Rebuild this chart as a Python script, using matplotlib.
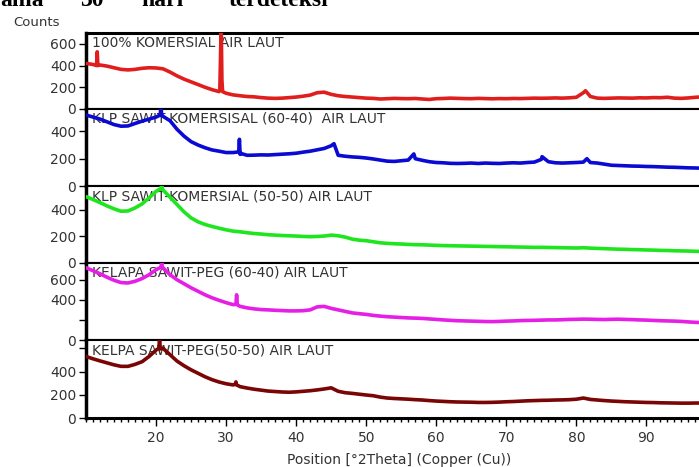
import numpy as np
import matplotlib
matplotlib.use("Agg")
import matplotlib.pyplot as plt
from matplotlib.ticker import MultipleLocator

# 2theta grid (1 degree steps) and the counts
two_theta = list(range(10, 99))

red_counts = [420, 410, 405, 395, 380, 365, 360, 365, 375, 380,
              378, 370, 340, 305, 275, 250, 225, 200, 178, 160,
              145, 130, 122, 115, 112, 105, 100, 98, 100, 105,
              110, 118, 128, 150, 155, 135, 122, 115, 110, 105,
              100, 98, 92, 95, 98, 96, 95, 97, 92, 88,
              95, 97, 100, 98, 96, 95, 98, 96, 94, 96,
              95, 97, 96, 98, 100, 99, 100, 102, 100, 103,
              108, 150, 115, 100, 98, 100, 102, 101, 100, 103,
              102, 105, 104, 108, 100, 98, 102, 108, 112]
red_peak_x = [11.5, 11.6, 11.7, 29.1, 29.3, 29.4, 29.5, 81.3]
red_peak_y = [400, 527, 400, 170, 780, 270, 160, 168]

blue_counts = [520, 505, 490, 470, 450, 438, 440, 458, 475, 490,
               505, 510, 478, 415, 365, 325, 300, 280, 264, 255,
               245, 245, 232, 225, 226, 228, 227, 230, 233, 236,
               240, 248, 255, 265, 275, 295, 225, 218, 213, 210,
               205, 198, 190, 182, 180, 185, 190, 200, 188, 178,
               172, 170, 166, 165, 166, 168, 165, 168, 166, 165,
               168, 170, 168, 172, 175, 195, 178, 170, 168, 170,
               172, 175, 172, 168, 160, 152, 150, 148, 146, 145,
               143, 142, 140, 138, 137, 135, 133, 132, 130]
blue_peak_x = [20.6, 20.7, 20.8, 31.8, 31.9, 32.0, 45.4, 56.8, 75.1, 81.5]
blue_peak_y = [520, 590, 515, 250, 342, 240, 310, 235, 215, 200]

green_counts = [500, 478, 455, 430, 408, 390, 392, 415, 445, 490,
                540, 550, 495, 440, 385, 340, 310, 290, 275, 262,
                250, 240, 235, 228, 222, 218, 213, 210, 207, 205,
                203, 200, 198, 200, 203, 210, 205, 195, 180, 172,
                168, 160, 152, 148, 145, 143, 140, 138, 137, 135,
                133, 131, 130, 129, 128, 127, 126, 125, 124, 123,
                122, 121, 120, 119, 118, 118, 117, 116, 115, 114,
                113, 115, 112, 110, 108, 106, 104, 103, 101, 100,
                98, 97, 95, 94, 92, 91, 90, 88, 87]
green_peak_x = [20.7, 20.8, 20.9]
green_peak_y = [560, 600, 555]

magenta_counts = [720, 690, 660, 625, 595, 572, 568, 585, 612, 650,
                  700, 720, 650, 600, 560, 520, 485, 450, 420, 395,
                  372, 352, 335, 320, 310, 303, 300, 296, 293, 290,
                  290, 292, 300, 330, 335, 315, 300, 285, 270, 262,
                  255, 245, 238, 232, 228, 224, 220, 218, 215, 210,
                  205, 200, 196, 192, 190, 188, 186, 184, 183, 185,
                  188, 190, 193, 195, 196, 198, 200, 200, 202, 205,
                  206, 208, 207, 205, 204, 206, 207, 205, 203, 200,
                  198, 195, 192, 190, 188, 185, 180, 176, 173]
magenta_peak_x = [20.7, 20.8, 20.9, 31.4, 31.5, 31.6]
magenta_peak_y = [725, 770, 715, 355, 450, 350]

brown_counts = [530, 510, 492, 475, 458, 445, 445, 462, 485, 530,
                585, 600, 545, 490, 450, 415, 385, 355, 330, 310,
                295, 285, 270, 258, 248, 240, 232, 228, 224, 222,
                225, 230, 235, 242, 250, 260, 230, 218, 212, 205,
                198, 192, 180, 172, 168, 165, 162, 158, 155, 150,
                146, 143, 140, 138, 137, 136, 134, 134, 135, 137,
                140, 142, 145, 148, 150, 152, 153, 155, 156, 158,
                162, 172, 160, 155, 150, 146, 143, 140, 138, 136,
                134, 133, 131, 130, 129, 128, 128, 129, 129]
brown_peak_x = [20.4, 20.5, 20.6, 31.3, 31.4, 31.5]
brown_peak_y = [600, 680, 595, 290, 311, 285]

labels = ["100% KOMERSIAL AIR LAUT",
          "KLP SAWIT-KOMERSISAL (60-40)  AIR LAUT",
          "KLP SAWIT-KOMERSIAL (50-50) AIR LAUT",
          "KELAPA SAWIT-PEG (60-40) AIR LAUT",
          "KELPA SAWIT-PEG(50-50) AIR LAUT"]
colors = ["#e01e1e", "#0a0ad2", "#1ee61e", "#e61ee6", "#7a0505"]
series = [(red_counts, red_peak_x, red_peak_y),
          (blue_counts, blue_peak_x, blue_peak_y),
          (green_counts, green_peak_x, green_peak_y),
          (magenta_counts, magenta_peak_x, magenta_peak_y),
          (brown_counts, brown_peak_x, brown_peak_y)]
ytop = [700, 564, 580, 767, 672]
yticks = [[0, 200, 400, 600], [0, 200, 400], [0, 200, 400],
          [0, 200, 400, 600], [0, 200, 400, 600]]
ytick_labels = [["0", "200", "400", "600"], ["0", "200", "400"],
                ["0", "200", "400"], ["0", "", "400", "600"],
                ["0", "200", "400", ""]]

# words of the page text cut off above the chart
page_words = ["ama", "30", "hari", "terdeteksi"]
page_word_px = [0, 80, 141, 229]

W, H = 699, 467
edges = [33, 109, 186, 263, 340, 418]  # panel borders, pixels from top
txt = "#333333"
left = 86 / W
width = 1.02 - left

fig = plt.figure(figsize=(W / 100, H / 100), dpi=100)

for i in range(5):
    top, bot = edges[i], edges[i + 1]
    ax = fig.add_axes([left, 1 - bot / H, width, (bot - top) / H])
    counts, px, py = series[i]
    pts = sorted(list(zip(two_theta, counts)) + list(zip(px, py)))
    xs = [p[0] for p in pts]
    ys = [p[1] for p in pts]
    ax.plot(xs, ys, color=colors[i], lw=2.6, zorder=3)
    ax.set_xlim(10, 99.5)
    ax.set_ylim(0, ytop[i])
    ax.set_yticks(yticks[i])
    ax.set_yticklabels(ytick_labels[i])
    ax.tick_params(axis="y", direction="out", length=5, width=1,
                   labelsize=10, labelcolor=txt, pad=2)
    for s in ax.spines.values():
        s.set_linewidth(1.5)
    ax.spines["left"].set_linewidth(2.5)
    if i == 0:
        ax.spines["top"].set_linewidth(2.2)
    if i == 4:
        ax.spines["bottom"].set_linewidth(2.2)
        ax.xaxis.set_minor_locator(MultipleLocator(1))
        ax.set_xticks([20, 30, 40, 50, 60, 70, 80, 90])
        ax.tick_params(axis="x", which="major", direction="out", length=6,
                       width=1, labelsize=10, labelcolor=txt, pad=3)
        ax.tick_params(axis="x", which="minor", direction="out", length=3,
                       width=1)
        ax.set_xlabel("Position [°2Theta] (Copper (Cu))", fontsize=10,
                      color=txt, labelpad=6)
    else:
        ax.tick_params(axis="x", which="both", bottom=False,
                       labelbottom=False)
    # sample name in the top left corner, drawn under the trace
    ax.text(6 / (W * width), 1.0 - 3 / (bot - top), labels[i],
            transform=ax.transAxes, ha="left", va="top",
            fontsize=10, color=txt, zorder=1)

fig.text(13 / W, 1 - 22 / H, "Counts", fontsize=9.5, color=txt, va="center")
for word, xp in zip(page_words, page_word_px):
    fig.text(xp / W, 1 - 6 / H, word, fontsize=17, fontweight="bold",
             family="Liberation Serif", va="baseline", color="black")

fig.savefig("out.png", dpi=100)
